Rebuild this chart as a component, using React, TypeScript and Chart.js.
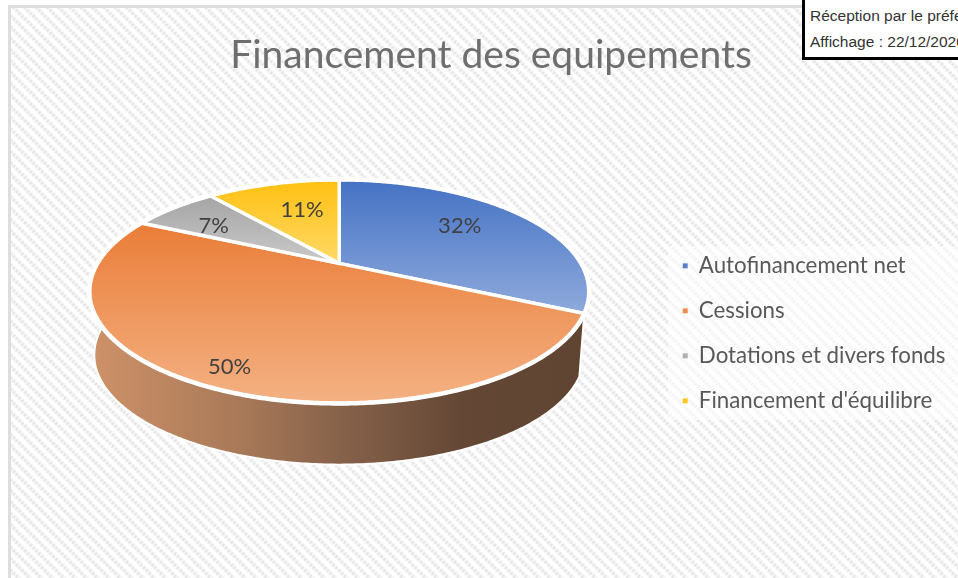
import React, { useEffect, useRef } from "react";
import { Chart, registerables } from "chart.js";

Chart.register(...registerables);

const categories = ["Autofinancement net", "Cessions", "Dotations et divers fonds", "Financement d'équilibre"];
const shares = [32, 50, 7, 11];
const chartTitle = "Financement des equipements";
const stampLines = ["Réception par le préfet", "Affichage : 22/12/2020"];

const legendColors = ["#5B7FC7", "#EE8D52", "#B0B0B0", "#FFC61F"];
const topColors = ["#4472C4", "#EA7D38", "#A5A5A5", "#FFC011"];
const bottomColors = ["#8FAADC", "#F4B183", "#C9C9C9", "#FFD966"];
const labelRadii = [0.64, 0.87, 0.73, 0.57];
const labelNudges = [
  [0, -4],
  [2, 1],
  [0, 5],
  [4, -4],
];
const wallStops = [
  [0, "#CD9168"],
  [0.3, "#A87958"],
  [0.5, "#87624B"],
  [0.75, "#644835"],
  [1, "#5E4431"],
] as const;

const PERSPECTIVE = 0.25;
const SQUASH = 0.434;
const WALL_SCALE = 0.98;
const WALL_DROP = 64;
const WALL_SLICE = 1;

function project(arc: any, angle: number, f = 1, scale = 1, drop = 0) {
  const R = arc.outerRadius * f;
  const den = 1 - PERSPECTIVE * f * Math.sin(angle);
  return {
    x: arc.x + (scale * R * Math.cos(angle)) / den,
    y: arc.y + (scale * SQUASH * R * Math.sin(angle)) / den + drop,
  };
}

function traceArc(ctx: CanvasRenderingContext2D, arc: any, from: number, to: number, scale = 1, drop = 0, move = false) {
  const steps = Math.max(2, Math.ceil(Math.abs(to - from) / 0.01));
  for (let i = 0; i <= steps; i++) {
    const p = project(arc, from + ((to - from) * i) / steps, 1, scale, drop);
    if (i === 0 && move) ctx.moveTo(p.x, p.y);
    else ctx.lineTo(p.x, p.y);
  }
}

const tiltedPie = {
  id: "tiltedPie",
  afterLayout(chart: any) {
    const { legend, titleBlock } = chart;
    legend.left = 660;
    legend.right = 958;
    legend.top = 232;
    legend.bottom = 442;
    titleBlock.left = 24;
    titleBlock.right = 958;
  },
  beforeDraw(chart: any) {
    const { ctx } = chart;
    ctx.save();
    ctx.fillStyle = "rgba(255,255,255,0.55)";
    ctx.fillRect(668, 246, 290, 174);
    ctx.restore();
  },
  beforeDatasetsDraw(chart: any) {
    const { ctx } = chart;
    const arcs = chart.getDatasetMeta(0).data;
    ctx.save();
    ctx.lineJoin = "round";

    const wallArc = arcs[WALL_SLICE];
    const grad = ctx.createLinearGradient(95, 0, 583, 0);
    wallStops.forEach(([stop, color]) => grad.addColorStop(stop, color));
    ctx.beginPath();
    traceArc(ctx, wallArc, wallArc.startAngle, wallArc.endAngle, 1, 0, true);
    traceArc(ctx, wallArc, wallArc.endAngle, wallArc.startAngle, WALL_SCALE, WALL_DROP);
    ctx.closePath();
    ctx.fillStyle = grad;
    ctx.fill();
    ctx.strokeStyle = "#fff";
    ctx.lineWidth = 2;
    ctx.stroke();

    arcs.forEach((arc: any, i: number) => {
      const ys = [arc.y];
      const n = 60;
      for (let k = 0; k <= n; k++) ys.push(project(arc, arc.startAngle + ((arc.endAngle - arc.startAngle) * k) / n).y);
      const g = ctx.createLinearGradient(0, Math.min(...ys), 0, Math.max(...ys));
      g.addColorStop(0, topColors[i]);
      g.addColorStop(1, bottomColors[i]);
      ctx.beginPath();
      ctx.moveTo(arc.x, arc.y);
      traceArc(ctx, arc, arc.startAngle, arc.endAngle);
      ctx.closePath();
      ctx.fillStyle = g;
      ctx.fill();
      ctx.strokeStyle = "#fff";
      ctx.lineWidth = 3.5;
      ctx.stroke();
    });

    ctx.strokeStyle = "#fff";
    ctx.lineWidth = 4.5;
    arcs.forEach((arc: any) => {
      ctx.beginPath();
      traceArc(ctx, arc, arc.startAngle, arc.endAngle, 1, 0, true);
      ctx.stroke();
    });

    ctx.fillStyle = "#404040";
    ctx.font = "22px Lato";
    ctx.textAlign = "center";
    ctx.textBaseline = "middle";
    arcs.forEach((arc: any, i: number) => {
      const p = project(arc, (arc.startAngle + arc.endAngle) / 2, labelRadii[i]);
      ctx.fillText(`${shares[i]}%`, p.x + labelNudges[i][0], p.y + labelNudges[i][1]);
    });
    ctx.restore();
    return false;
  },
};

export default function App() {
  const ref = useRef<HTMLCanvasElement>(null);
  useEffect(() => {
    document.body.style.margin = "0";
    const chart = new Chart(ref.current!, {
      type: "pie",
      data: {
        labels: categories,
        datasets: [{ data: shares, backgroundColor: legendColors, borderWidth: 0, radius: 242 }],
      },
      options: {
        responsive: false,
        animation: false,
        events: [],
        layout: { padding: { left: 16, right: 0, top: 0, bottom: 150 } },
        plugins: {
          tooltip: { enabled: false },
          title: {
            display: true,
            text: chartTitle,
            color: "#6E6E6E",
            font: { family: "Lato", size: 39, weight: "normal" },
            padding: { top: 32, bottom: 20 },
          },
          legend: {
            position: "right",
            align: "start",
            labels: {
              boxWidth: 5,
              boxHeight: 5,
              padding: 22.7,
              color: "#595959",
              font: { family: "Lato", size: 22.3, lineHeight: 1 },
            },
          },
        },
      },
      plugins: [tiltedPie],
    } as any);
    return () => chart.destroy();
  }, []);

  return (
    <div style={{ position: "fixed", left: 0, top: 0, width: 958, height: 578, overflow: "hidden", background: "#fff" }}>
      <div
        style={{
          position: "absolute",
          left: 8,
          top: 5,
          right: 0,
          bottom: 0,
          borderLeft: "3px solid #DEDEDE",
          borderTop: "3px solid #DEDEDE",
          background:
            "repeating-linear-gradient(-45deg, rgba(255,255,255,0.55) 0px, rgba(255,255,255,0.55) 1.5px, rgba(255,255,255,0) 2px, rgba(255,255,255,0) 3.5px, rgba(255,255,255,0.55) 4px), repeating-linear-gradient(45deg, #ffffff 0px, #ffffff 2.5px, #E6E6E6 4.5px, #E6E6E6 6px, #ffffff 8px)",
        }}
      />
      <canvas ref={ref} width={958} height={578} style={{ position: "absolute", left: 0, top: 0, display: "block" }} />
      <div
        style={{
          position: "absolute",
          left: 802,
          top: -4,
          width: 200,
          height: 64,
          border: "3px solid #000",
          background: "#fff",
          fontFamily: "'Liberation Sans'",
          fontSize: 15.5,
          color: "#333",
          whiteSpace: "nowrap",
          paddingLeft: 5,
          boxSizing: "border-box",
        }}
      >
        <div style={{ position: "absolute", top: 8 }}>{stampLines[0]}</div>
        <div style={{ position: "absolute", top: 34 }}>{stampLines[1]}</div>
      </div>
    </div>
  );
}
